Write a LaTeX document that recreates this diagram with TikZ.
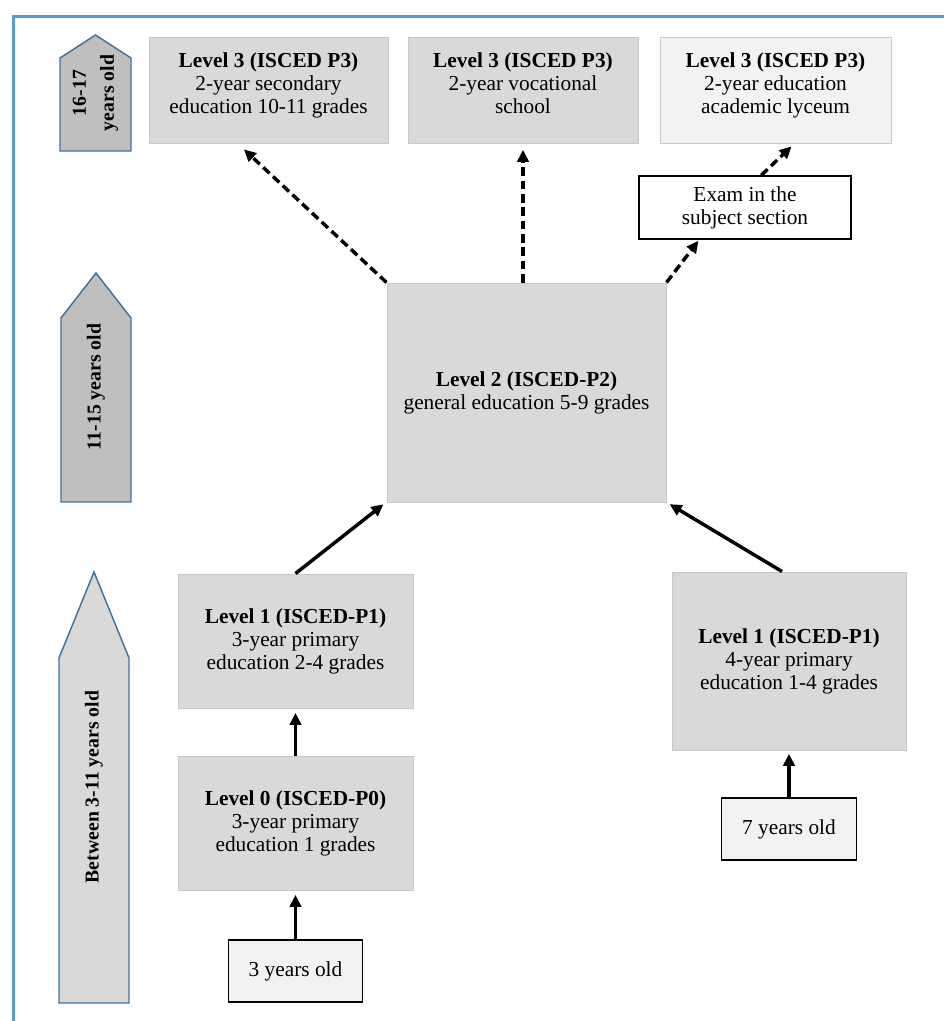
\documentclass[tikz,border=0pt]{standalone}
\usepackage{fontspec}
\setmainfont{Liberation Serif}
\usetikzlibrary{arrows.meta,calc,positioning}

\definecolor{framblue}{HTML}{5B9BD5}
\definecolor{edgeblue}{HTML}{41719C}
\definecolor{lvlgray}{HTML}{D9D9D9}
\definecolor{palegray}{HTML}{F2F2F2}
\definecolor{darkgray}{HTML}{BFBFBF}

\begin{document}
\begin{tikzpicture}[x=0.75pt, y=-0.75pt,
	lvlbox/.style={draw=black!22, line width=0.75pt, fill=lvlgray, align=center, inner sep=0pt,
		font=\fontsize{16}{17.25}\selectfont},
	topbox/.style={lvlbox, text depth=11pt},
	agebox/.style={draw=black, line width=1.1pt, fill=palegray, align=center, inner sep=0pt,
		font=\fontsize{16}{17.25}\selectfont},
	agetext/.style={rotate=90, align=center, font=\fontsize{14.8}{21}\selectfont\bfseries},
	arr/.style={-{Triangle[length=9pt,width=8.5pt]}, line width=2.6pt, shorten >=1pt},
	darr/.style={arr, dash pattern=on 6.5pt off 3.5pt}]
	\useasboundingbox (0,0) rectangle (944,1021); % Rand
	\draw[framblue, line width=2.25pt] (13,1021) -- (13,16) -- (944,16);
	
	% Alterspfeile links
	\draw[edgeblue, fill=darkgray, line width=1.1pt] (60,151) -- (60,58) -- (95.5,35) -- (131,58) -- (131,151) -- cycle;
	\node[agetext] (age3) at (95.5,93) {16-17\\years old};
	\draw[edgeblue, fill=darkgray, line width=1.1pt] (61,502) -- (61,318) -- (96,273) -- (131,318) -- (131,502) -- cycle;
	\node[agetext] (age2) at (96,387) {11-15 years old};
	\draw[edgeblue, fill=lvlgray, line width=1.1pt] (59,1003) -- (59,658) -- (94,572) -- (129,658) -- (129,1003) -- cycle;
	\node[agetext] (age1) at (94,787) {Between 3-11 years old};
	
	% Level 3
	\node[topbox, minimum width=179.25pt, minimum height=79.5pt] (A) at (268.5,90)
		{\textbf{Level 3 (ISCED P3)}\\2-year secondary\\education 10-11 grades};
	\node[topbox, minimum width=172.5pt, minimum height=79.5pt] (B) at (523,90)
		{\textbf{Level 3 (ISCED P3)}\\2-year vocational\\school};
	\node[topbox, fill=palegray, minimum width=173.25pt, minimum height=79.5pt] (C) at (775.5,90)
		{\textbf{Level 3 (ISCED P3)}\\2-year education\\academic lyceum};
	\node[agebox, fill=white, minimum width=159pt, minimum height=47.25pt] (Exam) at (745,207.5)
		{Exam in the\\subject section};
	
	% Level 2
	\node[lvlbox, minimum width=209.25pt, minimum height=164.25pt] (L2) at (526.5,392.5)
		{\textbf{Level 2 (ISCED-P2)}\\general education 5-9 grades};
	
	% Level 1 / Level 0
	\node[lvlbox, minimum width=176.25pt, minimum height=100.5pt] (L1L) at (295.5,641)
		{\textbf{Level 1 (ISCED-P1)}\\3-year primary\\education 2-4 grades};
	\node[lvlbox, minimum width=176.25pt, minimum height=100.5pt] (L0) at (295.5,823)
		{\textbf{Level 0 (ISCED-P0)}\\3-year primary\\education 1 grades};
	\node[lvlbox, minimum width=175.5pt, minimum height=133.5pt] (L1R) at (789,661)
		{\textbf{Level 1 (ISCED-P1)}\\4-year primary\\education 1-4 grades};
	\node[agebox, minimum width=100.5pt, minimum height=46.5pt] (Y3) at (295.5,971) {3 years old};
	\node[agebox, minimum width=101.25pt, minimum height=46.5pt] (Y7) at (789,829) {7 years old};
	
	% Pfeile
	\draw[darr] (L2.north west) -- ($(A.south)+(-25.5,5)$);
	\draw[darr] (B.south |- L2.north) -- ($(B.south)+(0,5)$);
	\draw[darr] (L2.north east) -- ($(Exam.south west)+(61,0)$);
	\draw[darr] ($(Exam.north west)+(123,0)$) -- ($(C.south west)+(133,2)$);
	\draw[arr] (L1L.north) -- ($(L2.south west)+(-2,1)$);
	\draw[arr] ($(L1R.north)+(-7,0)$) -- ($(L2.south east)+(2,1)$);
	\draw[arr] (L0.north) -- ($(L1L.south)+(0,3)$);
	\draw[arr] (Y3.north) -- ($(L0.south)+(0,3)$);
	\draw[arr] (Y7.north) -- ($(L1R.south)+(0,2)$);
\end{tikzpicture}
\end{document}
